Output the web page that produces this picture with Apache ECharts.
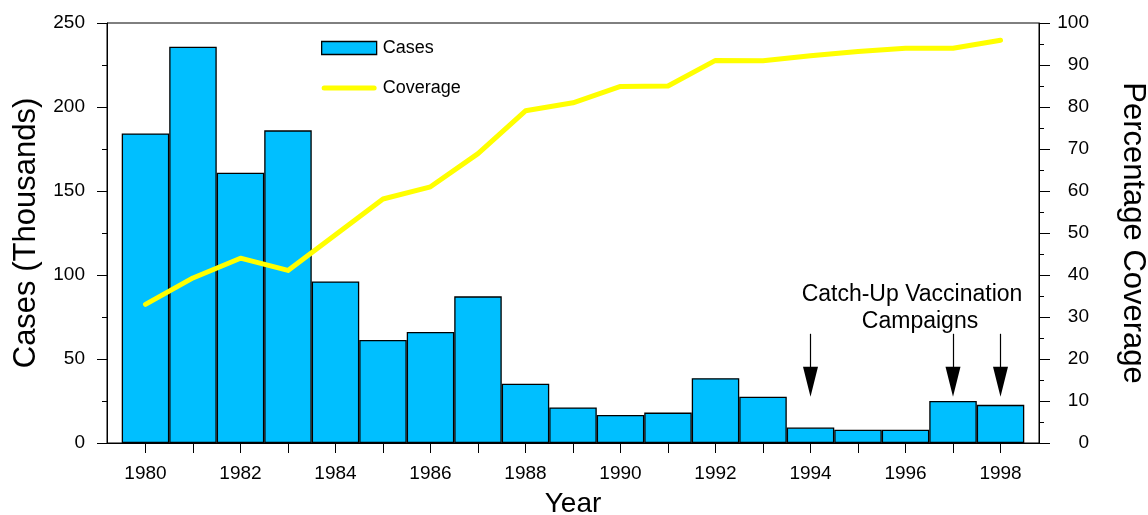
<!DOCTYPE html>
<html>
<head>
<meta charset="utf-8">
<script src="https://cdn.jsdelivr.net/npm/echarts@6/dist/echarts.min.js"></script>
<style>
html,body{margin:0;padding:0;background:#fff;}
#chart{width:1148px;height:515px;}
</style>
</head>
<body>
<div id="chart"></div>
<script>
// ---- data ----
const years = [1980,1981,1982,1983,1984,1985,1986,1987,1988,1989,1990,1991,1992,1993,1994,1995,1996,1997,1998];
const cases = [184.3,235.9,160.9,186.1,96.2,61.3,66.1,87.3,35.3,21.2,16.7,18.1,38.6,27.5,9.2,7.9,7.9,25.0,22.7];
const coverage = [33,39.3,44,41.1,49.6,58.1,61,68.9,79.1,81,84.9,85,91.1,91,92.2,93.2,94,94,95.9];
const yearLabels = [1980,1982,1984,1986,1988,1990,1992,1994,1996,1998];
const campaignYears = [1994,1997,1998];
const annotationLines = ['Catch-Up Vaccination','Campaigns'];

const FONT = '"Liberation Sans", Arial, sans-serif';
const casesData = years.map((y,i)=>[y,cases[i]]);
const coverageData = years.map((y,i)=>[y,coverage[i]]);
const arrowLines = campaignYears.map(y=>[
  {coord:[y,26], symbol:'none'},
  {coord:[y,14.6], symbol:'triangle', symbolSize:[15,30]}
]);

const chart = echarts.init(document.getElementById('chart'), null, {renderer:'canvas'});
chart.setOption({
  animation:false,
  backgroundColor:'#fff',
  textStyle:{fontFamily:FONT,color:'#000'},
  grid:{left:107,right:109,top:23,bottom:72,show:true,borderColor:'#000',borderWidth:1,containLabel:false,outerBoundsMode:'none'},
  legend:{
    orient:'vertical',left:321,top:39,padding:0,itemGap:22,itemWidth:55,itemHeight:13,
    textStyle:{fontFamily:FONT,fontSize:18,color:'#000',padding:[0,0,0,1]},
    data:[
      {name:'Cases',icon:'rect',itemStyle:{color:'#00BFFF',borderColor:'#000',borderWidth:1.3}},
      {name:'Coverage',icon:'path://M2.5,0 H52.5 A2.5,2.5 0 0 1 52.5,5 H2.5 A2.5,2.5 0 0 1 2.5,0 Z',itemStyle:{color:'#FFFF00',borderWidth:0}}
    ]
  },
  xAxis:{
    type:'value',min:1979.19,max:1998.81,
    name:'Year',nameLocation:'middle',nameGap:47,
    nameTextStyle:{fontFamily:FONT,fontSize:28,color:'#000'},
    axisLine:{show:true,lineStyle:{color:'#000',width:1}},
    axisTick:{show:true,inside:false,length:10,lineStyle:{color:'#000',width:1},customValues:years},
    axisLabel:{fontFamily:FONT,fontSize:19,color:'#000',margin:21,customValues:yearLabels,formatter:v=>String(v)},
    splitLine:{show:false}
  },
  yAxis:[
    {
      type:'value',min:0,max:250,interval:50,position:'left',
      name:'Cases (Thousands)',nameLocation:'middle',nameGap:64,
      nameTextStyle:{fontFamily:FONT,fontSize:31,color:'#000'},
      axisLine:{show:true,lineStyle:{color:'#000',width:1}},
      axisTick:{show:true,inside:false,length:10,lineStyle:{color:'#000'}},
      minorTick:{show:true,splitNumber:2,length:5,lineStyle:{color:'#000'}},
      axisLabel:{fontFamily:FONT,fontSize:19,color:'#000',margin:22},
      splitLine:{show:false}
    },
    {
      type:'value',min:0,max:100,interval:10,position:'right',
      name:'Percentage Coverage',nameLocation:'middle',nameGap:78,nameRotate:-90,
      nameTextStyle:{fontFamily:FONT,fontSize:31,color:'#000'},
      axisLine:{show:true,lineStyle:{color:'#000',width:1}},
      axisTick:{show:true,inside:false,length:11,lineStyle:{color:'#000'}},
      minorTick:{show:true,splitNumber:2,length:5,lineStyle:{color:'#000'}},
      axisLabel:{fontFamily:FONT,fontSize:19,color:'#000',margin:50,align:'right'},
      splitLine:{show:false}
    }
  ],
  series:[
    {
      name:'Cases',type:'bar',xAxisIndex:0,yAxisIndex:0,barWidth:'100%',
      data:casesData,
      itemStyle:{color:'#00BFFF',borderColor:'#000',borderWidth:1.3}
    },
    {
      name:'Coverage',type:'line',xAxisIndex:0,yAxisIndex:1,
      data:coverageData,symbol:'none',showSymbol:false,
      lineStyle:{color:'#FFFF00',width:5,cap:'round',join:'round'},
      itemStyle:{color:'#FFFF00'},
      z:3,
      markLine:{
        silent:true,animation:false,
        label:{show:false},
        lineStyle:{color:'#000',width:1.2,type:'solid'},
        itemStyle:{color:'#000'},
        emphasis:{disabled:true},
        data:arrowLines
      }
    }
  ],
  graphic:[
    {type:'text',x:912,y:295,style:{text:annotationLines[0],font:'23px '+FONT,fill:'#000',align:'center',verticalAlign:'middle'}},
    {type:'text',x:920,y:322,style:{text:annotationLines[1],font:'23px '+FONT,fill:'#000',align:'center',verticalAlign:'middle'}}
  ]
});
</script>
</body>
</html>
